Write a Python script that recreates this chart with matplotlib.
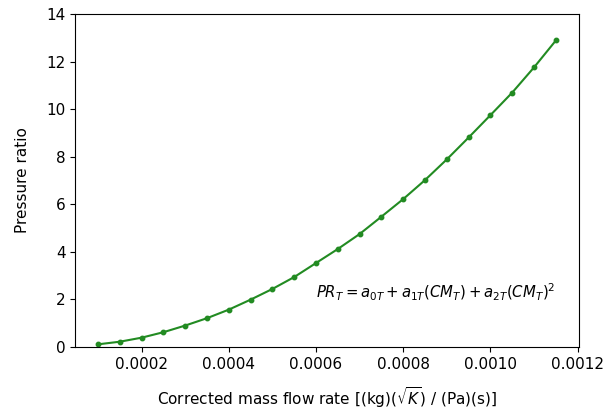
import numpy as np
import matplotlib.pyplot as plt

# corrected mass flow rate samples and pressure ratio
cm_t = [0.00010, 0.00015, 0.00020, 0.00025, 0.00030, 0.00035, 0.00040, 0.00045,
        0.00050, 0.00055, 0.00060, 0.00065, 0.00070, 0.00075, 0.00080, 0.00085,
        0.00090, 0.00095, 0.00100, 0.00105, 0.00110, 0.00115]
pr_t = [0.11, 0.22, 0.39, 0.62, 0.90, 1.21, 1.57, 1.99,
        2.44, 2.94, 3.53, 4.12, 4.75, 5.48, 6.22, 7.02,
        7.89, 8.81, 9.75, 10.70, 11.76, 12.89]

eq_label = r"$PR_T = a_{0T} + a_{1T}(CM_T) + a_{2T}(CM_T)^2$"

plt.rcParams["font.size"] = 11

fig, ax = plt.subplots(figsize=(6.06, 4.15), dpi=100)
ax.plot(cm_t, pr_t, color="forestgreen", marker="o", markersize=3.2, linewidth=1.5)
ax.set_ylim(0, 14)
ax.set_xticks([0.0002, 0.0004, 0.0006, 0.0008, 0.0010, 0.0012])
ax.set_xticklabels(["0.0002", "0.0004", "0.0006", "0.0008", "0.0010", "0.0012"])
ax.tick_params(labelsize=11)
ax.set_xlabel(r"Corrected mass flow rate [(kg)($\sqrt{K}$) / (Pa)(s)]", labelpad=10)
ax.set_ylabel("Pressure ratio", labelpad=12)
ax.text(0.0006, 1.85, eq_label, fontsize=10.7, va="bottom")

fig.subplots_adjust(left=0.124, right=0.955, top=0.966, bottom=0.164)
fig.savefig("out.png", dpi=100)
